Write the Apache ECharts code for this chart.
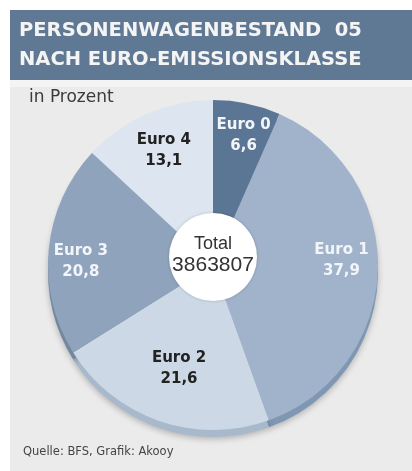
<!DOCTYPE html>
<html>
<head>
<meta charset="utf-8">
<script src="https://cdn.jsdelivr.net/npm/echarts@6/dist/echarts.min.js"></script>
<style>
  html, body { margin: 0; padding: 0; background: #fff; }
  #main { width: 412px; height: 471px; }
</style>
</head>
<body>
<div id="main"></div>
<script>
// Daten
const classes = ['Euro 0', 'Euro 1', 'Euro 2', 'Euro 3', 'Euro 4'];
const shares = [6.6, 37.9, 21.6, 20.8, 13.1];
const total = 3863807;
const sliceColors = ['#5b7594', '#a0b3cb', '#ccd8e6', '#8fa3bc', '#dde6f0'];
const edgeColors = ['#4a6280', '#8097b3', '#a9b9cc', '#73879f', '#b9c6d6'];
const labelColors = ['#f2f5f9', '#f2f5f9', '#222', '#f2f5f9', '#222'];
// Beschriftung etwas verschieben wie im Original
const labelShift = [[13, -46], [43, -7], [-6, 23], [-47, 5], [-15, -36]];

const chart = echarts.init(document.getElementById('main'));

const cx = 213, cy = 265, r = 165;

const option = {
  backgroundColor: '#fff',
  animation: false,
  graphic: [
    { type: 'rect', shape: { x: 10, y: 10, width: 402, height: 70 }, style: { fill: '#5f7894' } },
    { type: 'rect', shape: { x: 10, y: 80, width: 402, height: 391 }, style: { fill: '#ebebeb' } },
    { type: 'rect', shape: { x: 10, y: 80, width: 402, height: 7 }, style: { fill: '#f4f4f4' } },
    { type: 'text', left: 19, top: 21, style: { text: 'PERSONENWAGENBESTAND  05', fill: '#f4f4f4', font: 'bold 19.5px "DejaVu Sans", sans-serif' } },
    { type: 'text', left: 19, top: 50, style: { text: 'NACH EURO-EMISSIONSKLASSE', fill: '#f4f4f4', font: 'bold 19.5px "DejaVu Sans", sans-serif' } },
    { type: 'text', left: 29, top: 89, style: { text: 'in Prozent', fill: '#3a3a3a', font: '17px "DejaVu Sans", sans-serif' } },
    { type: 'text', left: 23, top: 446, style: { text: 'Quelle: BFS, Grafik: Akooy', fill: '#444', font: '11.5px "DejaVu Sans", sans-serif' } },
    { type: 'circle', z: 100, shape: { cx: cx, cy: 257, r: 44 }, style: { fill: '#fff', shadowBlur: 3, shadowColor: 'rgba(0,0,0,0.2)' } },
    { type: 'text', z: 101, x: cx, y: 235, style: { text: 'Total', fill: '#333', font: '18px "Liberation Sans", Arial', align: 'center' } },
    { type: 'text', z: 101, x: cx, y: 255, style: { text: String(total), fill: '#333', font: '21px "Liberation Sans", Arial', align: 'center' } }
  ],
  series: [
    {
      // Seitenkante (3D)
      type: 'pie',
      silent: true,
      center: [cx, cy + 7],
      radius: [0, r],
      startAngle: 90,
      clockwise: true,
      label: { show: false },
      labelLine: { show: false },
      itemStyle: { shadowBlur: 6, shadowColor: 'rgba(0,0,0,0.25)', shadowOffsetY: 2 },
      data: classes.map((c, i) => ({ name: c, value: shares[i], itemStyle: { color: edgeColors[i] } }))
    },
    {
      type: 'pie',
      center: [cx, cy],
      radius: [0, r],
      startAngle: 90,
      clockwise: true,
      label: {
        show: true,
        position: 'inside',
        formatter: p => p.name + '\n' + String(p.value).replace('.', ','),
        fontFamily: '"DejaVu Sans", sans-serif',
        fontWeight: 'bold',
        fontSize: 15,
        lineHeight: 21
      },
      labelLine: { show: false },
      data: classes.map((c, i) => ({
        name: c,
        value: shares[i],
        itemStyle: { color: sliceColors[i] },
        label: { color: labelColors[i], offset: labelShift[i] }
      }))
    }
  ]
};

chart.setOption(option);
</script>
</body>
</html>
